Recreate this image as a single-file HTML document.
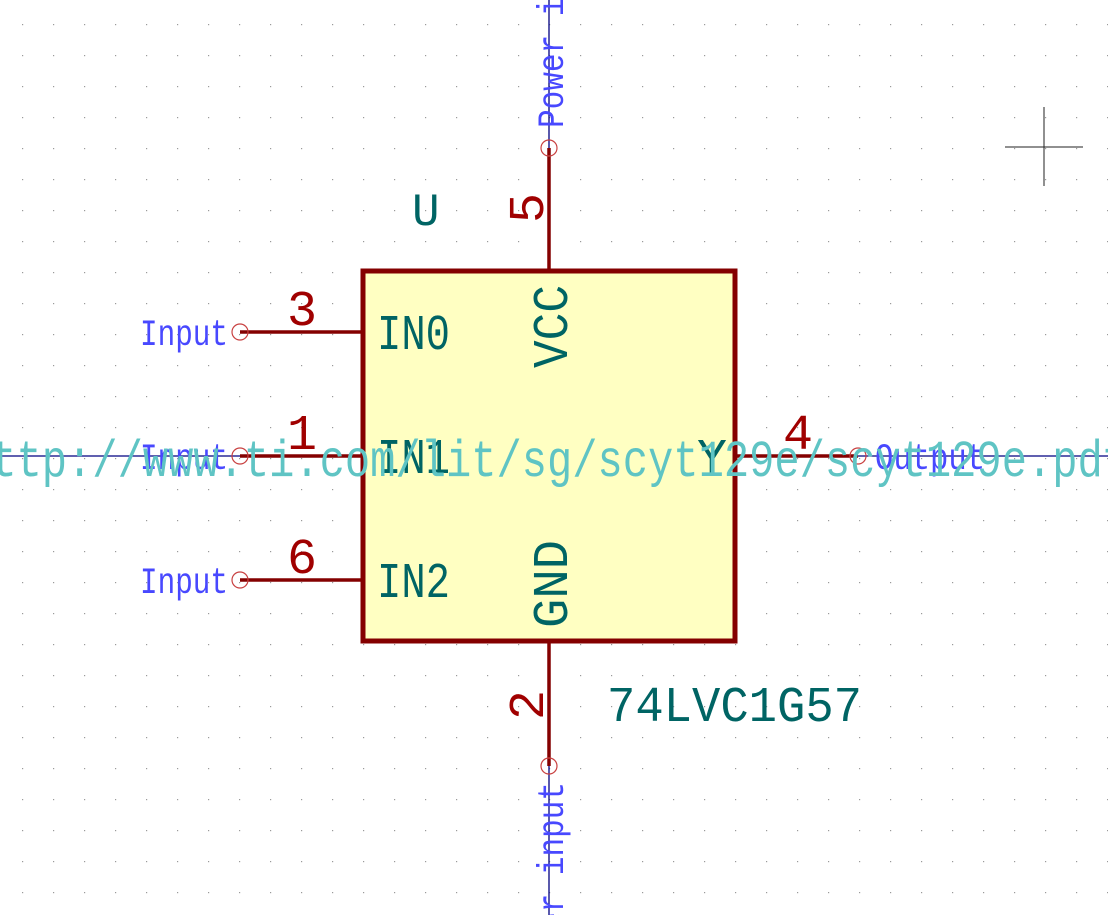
<!DOCTYPE html>
<html><head><meta charset="utf-8"><style>
html,body{margin:0;padding:0;background:#fff;width:1108px;height:915px;overflow:hidden}
svg{display:block;overflow:hidden}
text{font-family:"Liberation Mono","DejaVu Sans Mono",monospace}
</style></head><body>
<svg width="1108" height="915" viewBox="0 0 1108 915" xmlns="http://www.w3.org/2000/svg">
<defs>
<pattern id="g" x="22" y="24" width="31" height="31" patternUnits="userSpaceOnUse">
<rect x="0" y="0" width="1.2" height="1.2" fill="#9a9a9a"/>
</pattern>
<clipPath id="c"><rect width="1108" height="915"/></clipPath>
</defs>
<g clip-path="url(#c)">
<rect width="1108" height="915" fill="url(#g)"/>
<line x1="1005" y1="147" x2="1083" y2="147" stroke="#222" stroke-width="1"/>
<line x1="1044" y1="107" x2="1044" y2="186" stroke="#222" stroke-width="1"/>
<line x1="0" y1="456" x2="1108" y2="456" stroke="#000080" stroke-width="1.3"/>
<line x1="549" y1="0" x2="549" y2="148" stroke="#000080" stroke-width="1.3"/>
<line x1="549" y1="766" x2="549" y2="915" stroke="#000080" stroke-width="1.3"/>
<rect x="363" y="271" width="372" height="370" fill="#ffffc2" stroke="#840000" stroke-width="5"/>
<g stroke="#840000" stroke-width="3.5">
<line x1="240" y1="332" x2="363" y2="332"/>
<line x1="240" y1="456" x2="363" y2="456"/>
<line x1="240" y1="580" x2="363" y2="580"/>
<line x1="735" y1="456" x2="858" y2="456"/>
<line x1="549" y1="148" x2="549" y2="271"/>
<line x1="549" y1="641" x2="549" y2="766"/>
</g>
<g fill="none" stroke="#c84040" stroke-width="1.2">
<circle cx="240" cy="332" r="8"/><circle cx="240" cy="456" r="8"/><circle cx="240" cy="580" r="8"/>
<circle cx="858" cy="456" r="8"/><circle cx="549" cy="148" r="8"/><circle cx="549" cy="766" r="8"/>
</g>
<g fill="#4848ff" font-size="37">
<text x="228" y="345" text-anchor="end" textLength="88" lengthAdjust="spacingAndGlyphs">Input</text>
<text x="228" y="469" text-anchor="end" textLength="88" lengthAdjust="spacingAndGlyphs">Input</text>
<text x="228" y="593" text-anchor="end" textLength="88" lengthAdjust="spacingAndGlyphs">Input</text>
<text x="875" y="469" textLength="110" lengthAdjust="spacingAndGlyphs">Output</text>
<text transform="translate(563,128) rotate(-90)" textLength="205" lengthAdjust="spacingAndGlyphs">Power input</text>
<text transform="translate(563,782) rotate(-90)" text-anchor="end" textLength="149" lengthAdjust="spacingAndGlyphs">er input</text>
</g>
<g fill="#a00000" font-size="50">
<text x="287" y="325">3</text>
<text x="287" y="449">1</text>
<text x="287" y="573">6</text>
<text x="783" y="449">4</text>
<text transform="translate(543,223) rotate(-90)">5</text>
<text transform="translate(543,720) rotate(-90)">2</text>
</g>
<g fill="#006464" font-size="50">
<text x="377" y="349" textLength="73" lengthAdjust="spacingAndGlyphs">IN0</text>
<text x="377" y="473" textLength="73" lengthAdjust="spacingAndGlyphs">IN1</text>
<text x="377" y="597" textLength="73" lengthAdjust="spacingAndGlyphs">IN2</text>
<text x="697" y="473">Y</text>
<text transform="translate(567,368) rotate(-90)" textLength="83" lengthAdjust="spacingAndGlyphs">VCC</text>
<text transform="translate(567,628) rotate(-90)" textLength="88" lengthAdjust="spacingAndGlyphs">GND</text>
<text x="412" y="225" font-size="46">U</text>
<text x="607" y="721" textLength="255" lengthAdjust="spacingAndGlyphs">74LVC1G57</text>
</g>
<text x="-34" y="476" fill="#5fc4c4" font-size="52" textLength="1162" lengthAdjust="spacingAndGlyphs">http://www.ti.com/lit/sg/scyt129e/scyt129e.pdf</text>
</g>
</svg>
</body></html>
